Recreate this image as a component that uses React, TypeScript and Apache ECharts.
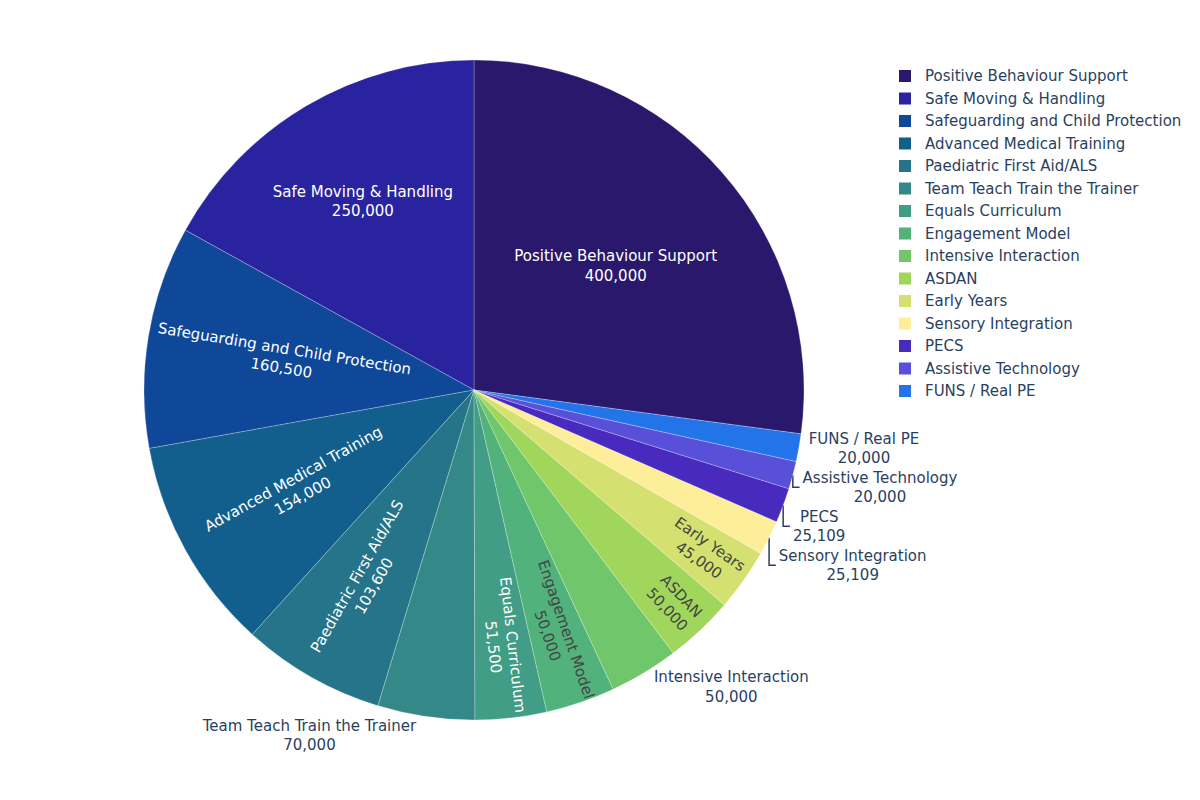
import React, { useEffect, useRef } from "react";
import * as echarts from "echarts";

// Training budget by programme
const categories = [
  "Positive Behaviour Support",
  "Safe Moving & Handling",
  "Safeguarding and Child Protection",
  "Advanced Medical Training",
  "Paediatric First Aid/ALS",
  "Team Teach Train the Trainer",
  "Equals Curriculum",
  "Engagement Model",
  "Intensive Interaction",
  "ASDAN",
  "Early Years",
  "Sensory Integration",
  "PECS",
  "Assistive Technology",
  "FUNS / Real PE",
];
const values = [
  400000, 250000, 160500, 154000, 103600, 70000, 51500, 50000, 50000, 50000,
  45000, 25109, 25109, 20000, 20000,
];
const sliceColors = [
  "rgb(41,24,107)",
  "rgb(42,35,160)",
  "rgb(15,71,153)",
  "rgb(18,95,142)",
  "rgb(38,116,137)",
  "rgb(53,136,136)",
  "rgb(65,157,133)",
  "rgb(81,178,124)",
  "rgb(111,198,107)",
  "rgb(160,214,91)",
  "rgb(212,225,112)",
  "rgb(253,238,153)",
  "rgb(72,43,190)",
  "rgb(88,80,217)",
  "rgb(36,116,233)",
];
// how each slice's label is set: horizontal / radial inside, or outside
const labelModes = [
  "horizontal",
  "horizontal",
  "radial",
  "radial",
  "radial",
  "outside",
  "radial",
  "radial",
  "outside",
  "radial",
  "radial",
  "outside",
  "outside",
  "outside",
  "outside",
];

const WIDTH = 1200;
const HEIGHT = 800;
const CX = 474;
const CY = 390;
const R = 330;
const FONT = 'Verdana, "DejaVu Sans", sans-serif';
const FS = 15;
const LH = 19.5;
const TEXT_DARK = "#2a3f5f";

const fmt = (v: number) => v.toLocaleString("en-US");

function parseRgb(c: string) {
  return c.match(/\d+/g)!.map(Number);
}

type Placement = {
  x: number;
  y: number;
  rotate: number;
  line?: number[][];
};

function computePlacements(): Placement[] {
  const ctx = document.createElement("canvas").getContext("2d")!;
  ctx.font = `${FS}px ${FONT}`;
  const measure = (s: string) => ctx.measureText(s).width;
  const total = values.reduce((a, b) => a + b, 0);
  let acc = 90 - (360 * values[0]) / total;
  const hb = 2 * LH;
  const out: (Placement & { px: number; py: number; outside: boolean })[] = [];
  values.forEach((v, i) => {
    const span = (360 * v) / total;
    const mid = acc + span / 2;
    acc += span;
    const th = (mid * Math.PI) / 180;
    const half = ((span / 2) * Math.PI) / 180;
    const ux = Math.cos(th);
    const uy = -Math.sin(th);
    const w = Math.max(measure(categories[i]), measure(fmt(v)));
    const mode = labelModes[i];
    if (mode === "horizontal") {
      // largest circle inscribed in the sector holds the text
      const sh = Math.sin(half);
      const rIns = half < Math.PI / 2 ? sh / (1 + sh) : 0.5;
      const rc = 1 - rIns;
      out.push({ x: CX + ux * R * rc, y: CY + uy * R * rc, rotate: 0, px: ux * R, py: uy * R, outside: false });
    } else if (mode === "radial") {
      // text laid along the radius, pushed out as far as the sector allows
      const rr = R - 6;
      const a = w / hb;
      const q = a + 1 / (2 * Math.tan(half));
      const s = rr * Math.min(1 / (Math.sqrt(q * q + 0.5) + q), 1 / (Math.sqrt(a * a + 0.5) + a));
      const b = s / rr;
      const rc = Math.cos(b) - a * b;
      const m = ((mid % 360) + 360) % 360;
      const rot = Math.cos(th) < 0 ? m - 180 : m > 180 ? m - 360 : m;
      out.push({ x: CX + ux * R * rc, y: CY + uy * R * rc, rotate: rot, px: ux * R, py: uy * R, outside: false });
    } else {
      const px = ux * R;
      const py = uy * R;
      let dx = w / 2;
      let dy = hb / 2;
      if (px < 0) dx *= -1;
      if (py < 0) dy *= -1;
      const offX = dx + (Math.abs(dy) * (dx > 0 ? 1 : -1)) / 2;
      const offY = dy / (1 + (px * px) / (py * py));
      out.push({ x: CX + px + offX, y: CY + py + offY, rotate: 0, px, py, outside: true });
    }
  });

  // push overlapping outside labels apart within each quadrant
  const quads: Record<string, number[]> = {};
  out.forEach((p, i) => {
    if (!p.outside) return;
    const k = `${p.px > 0 ? "r" : "l"}${p.py > 0 ? "b" : "t"}`;
    (quads[k] = quads[k] || []).push(i);
  });
  Object.entries(quads).forEach(([k, idx]) => {
    const down = k.endsWith("b");
    idx.sort((a, b) => (down ? out[a].y - out[b].y : out[b].y - out[a].y));
    for (let j = 1; j < idx.length; j++) {
      const prev = out[idx[j - 1]];
      const cur = out[idx[j]];
      const origY = cur.y;
      if (down && cur.y - hb / 2 < prev.y + hb / 2) cur.y = prev.y + hb;
      if (!down && cur.y + hb / 2 > prev.y - hb / 2) cur.y = prev.y - hb;
      if (cur.y !== origY) {
        const sx = CX + cur.px;
        const sy = CY + cur.py;
        const dir = cur.px > 0 ? 1 : -1;
        cur.line = [
          [sx, sy],
          [sx, cur.y],
          [sx + dir * (hb / 4 - 3), cur.y],
        ];
      }
    }
  });
  return out;
}

export default function App() {
  const ref = useRef<HTMLDivElement>(null);
  useEffect(() => {
    document.body.style.margin = "0";
    const chart = echarts.init(ref.current!, null, { renderer: "svg" });
    const placements = computePlacements();
    const total = values.reduce((a, b) => a + b, 0);
    const data = categories.map((name, i) => {
      const [r, g, b] = parseRgb(sliceColors[i]);
      const light = (r * 299 + g * 587 + b * 114) / 1000 > 128;
      const outside = labelModes[i] === "outside";
      return {
        name,
        value: values[i],
        itemStyle: { color: sliceColors[i] },
        label: {
          position: outside ? "outside" : "inside",
          color: outside ? TEXT_DARK : light ? "#444" : "#fff",
        },
        labelLine: { show: !!placements[i].line },
      };
    });
    chart.setOption({
      animation: false,
      backgroundColor: "#fff",
      textStyle: { fontFamily: FONT },
      legend: {
        orient: "vertical",
        left: 894,
        top: 63,
        data: categories,
        icon: "rect",
        itemWidth: 12,
        itemHeight: 12,
        itemGap: 6.5,
        selectedMode: false,
        itemStyle: { borderWidth: 0 },
        textStyle: {
          fontFamily: FONT,
          fontSize: FS,
          lineHeight: 16,
          color: TEXT_DARK,
          padding: [0, 0, 0, 9],
        },
      },
      series: [
        {
          type: "pie",
          center: [CX, CY],
          radius: R,
          clockwise: false,
          startAngle: 90 - (360 * values[0]) / total,
          avoidLabelOverlap: false,
          emphasis: { disabled: true },
          itemStyle: { borderColor: "rgba(255,255,255,0.5)", borderWidth: 0.5 },
          label: {
            formatter: (p: any) => `${p.name}\n${fmt(p.value)}`,
            fontFamily: FONT,
            fontSize: FS,
            lineHeight: LH,
            align: "center",
            verticalAlign: "middle",
          },
          labelLine: { lineStyle: { color: TEXT_DARK, width: 1.5 }, smooth: false },
          labelLayout: (params: any) => {
            const p = placements[params.dataIndex];
            const res: any = { x: p.x, y: p.y, rotate: p.rotate, align: "center", verticalAlign: "middle" };
            if (p.line) res.labelLinePoints = p.line;
            return res;
          },
          data,
        },
      ],
    });
    return () => chart.dispose();
  }, []);
  return (
    <div
      ref={ref}
      style={{ position: "absolute", left: 0, top: 0, width: WIDTH, height: HEIGHT }}
    />
  );
}
